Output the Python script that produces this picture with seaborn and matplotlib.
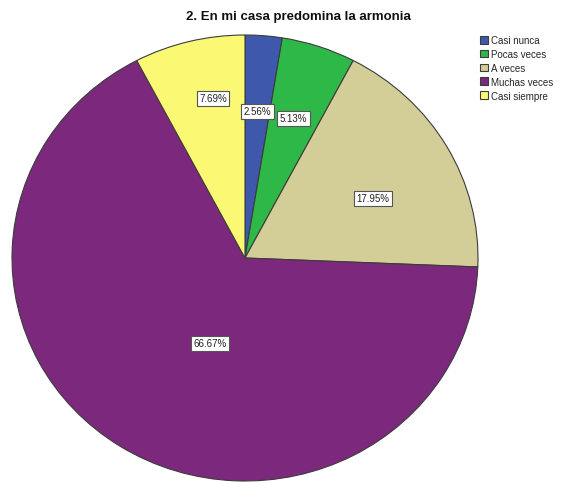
import matplotlib
matplotlib.use("Agg")
import matplotlib.pyplot as plt
import seaborn as sns
import numpy as np

# Response shares for item 2
categories = ["Casi nunca", "Pocas veces", "A veces", "Muchas veces", "Casi siempre"]
percentages = [2.56, 5.13, 17.95, 66.67, 7.69]
colors = ["#3E58AC", "#2EB848", "#D3CE97", "#7C287D", "#FBF873"]
title = "2. En mi casa predomina la armonia"

# placement of each percentage label: fraction of radius and angular nudge (deg)
label_radius = [0.66, 0.66, 0.61, 0.41, 0.73]
label_shift = [0, 0, -4, 11, -3]

sns.set_theme(style="white")
plt.rcParams["font.family"] = ["Liberation Sans", "DejaVu Sans"]

W, H = 567, 485
fig = plt.figure(figsize=(W / 100, H / 100), dpi=100)
fig.patch.set_facecolor("white")

ax = fig.add_axes([12 / W, 3 / H, 466 / W, 446 / H])
wedges, _ = ax.pie(
    percentages,
    colors=colors,
    startangle=90,
    counterclock=False,
    radius=1,
    wedgeprops=dict(edgecolor="#3c3c3c", linewidth=0.8),
)
ax.set_aspect("auto")
ax.set_xlim(-1, 1)
ax.set_ylim(-1, 1)
ax.axis("off")

for w, pct, r, d in zip(wedges, percentages, label_radius, label_shift):
    ang = np.deg2rad((w.theta1 + w.theta2) / 2 + d)
    ax.text(
        r * np.cos(ang), r * np.sin(ang), f"{pct:.2f}%",
        ha="center", va="center", fontsize=7, color="#222222",
        bbox=dict(boxstyle="square,pad=0.25", fc="white", ec="#555555", lw=0.8),
    )

fig.text(298 / W, 1 - 17 / H, title, ha="center", va="center",
         fontsize=9.5, fontweight="bold", color="#111111")

fig.legend(
    wedges, categories,
    loc="upper left", bbox_to_anchor=(480 / W, 1 - 36 / H),
    bbox_transform=fig.transFigure,
    frameon=False, fontsize=7, borderpad=0, borderaxespad=0,
    handlelength=0.85, handleheight=0.85, handletextpad=0.25,
    labelspacing=0.4,
)

fig.savefig("out.png", dpi=100, facecolor="white")
